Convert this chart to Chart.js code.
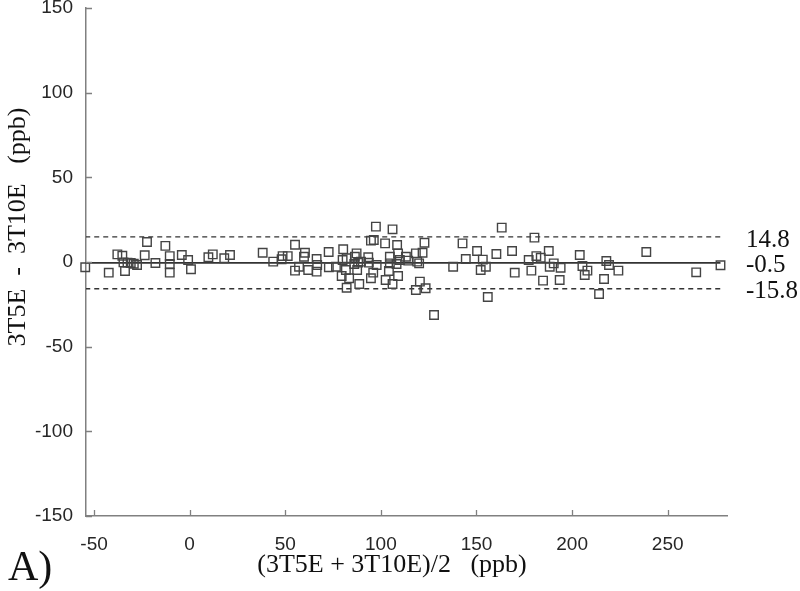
<!DOCTYPE html>
<html>
<head>
<meta charset="utf-8">
<script src="https://cdn.jsdelivr.net/npm/chart.js@4.4.1/dist/chart.umd.min.js"></script>
<style>
  body { margin: 0; background: #fff; }
  #caixa { width: 800px; height: 591px; }
</style>
</head>
<body>
<div id="caixa"><canvas id="grafico"></canvas></div>
<script>
// media das duas medidas (eixo x) e diferenca (eixo y)
var mediaX = [
  -54.6, -42.3, -37.8, -35.2, -34.6, -33.8, -32.5, -30.8, -29.2, -27.5,
  -22.3, -23.5, -17.9, -12.7, -10.4, -10.4, -10.4, -4.1, -0.8, 0.7,
  9.8, 12.1, 18.1, 21.1, 38.2, 43.7, 48.1, 48.6, 51.3, 55.1,
  55.1, 57.2, 60.3, 59.8, 62.0, 66.4, 66.7, 66.4, 72.7, 72.8,
  76.5, 80.3, 80.0, 82.1, 79.5, 81.7, 83.4, 82.1, 87.3, 86.4,
  86.1, 88.1, 87.6, 89.6, 88.7, 93.4, 93.7, 94.8, 96.3, 97.4,
  96.0, 94.8, 97.8, 102.2, 102.5, 104.7, 104.7, 104.2, 106.1, 106.1,
  108.5, 109.0, 108.2, 109.0, 109.9, 113.1, 114.3, 118.3, 119.0, 120.0,
  121.8, 122.8, 120.4, 118.3, 123.4, 127.8, 137.8, 142.7, 144.4, 150.3,
  153.3, 152.2, 154.9, 155.9, 160.4, 163.2, 168.6, 170.0, 177.3, 178.7,
  180.3, 181.3, 183.6, 184.8, 187.8, 188.3, 190.4, 193.5, 194.0, 204.0,
  205.4, 206.6, 208.0, 214.1, 216.7, 217.9, 219.3, 224.2, 238.8, 264.9,
  277.6
];
var diferencaY = [
  -3.1, -6.3, 4.5, 3.7, -0.2, -5.3, -0.4, -0.6, -1.0, -1.8,
  11.8, 4.0, -0.6, 9.5, 3.5, -1.2, -6.3, 4.1, 1.2, -4.3,
  2.8, 4.5, 2.2, 4.1, 5.5, 0.2, 1.6, 3.5, 3.5, 10.2,
  -5.1, -2.8, 5.5, 3.1, -4.7, 1.8, -1.8, -5.7, 5.9, -3.1,
  -2.8, 7.5, 1.2, 2.2, -8.3, -4.7, -9.6, -15.2, 5.1, 3.1,
  -1.2, -0.4, -4.7, 0.2, -13.0, 2.8, -0.4, 12.6, 13.0, 20.9,
  -6.3, -9.6, -1.8, 11.0, -10.6, 3.1, -0.8, -5.3, 19.3, -13.0,
  10.0, 5.1, -1.2, -8.3, 1.2, 3.1, 0.8, 5.1, 0.2, -0.8,
  5.5, 11.4, -11.6, -16.5, -15.5, -31.3, -2.8, 11.0, 1.8, 6.5,
  1.4, -4.7, -2.8, -20.7, 4.7, 20.3, 6.5, -6.3, 1.2, -5.1,
  14.4, 3.5, 2.5, -11.0, 6.5, -2.8, -0.8, -10.6, -3.4, 4.1,
  -2.4, -7.7, -5.1, -18.9, -10.0, 0.6, -1.8, -5.1, 5.9, -6.1,
  -1.9
];
var xTicks = [-50, 0, 50, 100, 150, 200, 250];
var yTicks = [-150, -100, -50, 0, 50, 100, 150];
var limites = [14.8, -0.5, -15.8]; // limite superior, media, limite inferior
var tituloX = "(3T5E + 3T10E)/2   (ppb)";
var tituloY = "3T5E  -  3T10E   (ppb)";
var painel = "A)";

var pontos = [];
for (var i = 0; i < mediaX.length; i++) {
  pontos.push({ x: mediaX[i], y: diferencaY[i] });
}
var xIni = Math.min.apply(null, mediaX);
var xFim = Math.max.apply(null, mediaX);

var datasets = [
  {
    type: "scatter",
    data: pontos,
    pointStyle: "rect",
    pointRadius: 6,
    pointHoverRadius: 6,
    borderColor: "#444",
    backgroundColor: "rgba(0,0,0,0)",
    borderWidth: 1.4,
    clip: false,
    yAxisID: "y",
  },
];
for (var j = 0; j < limites.length; j++) {
  datasets.push({
    type: "line",
    data: [
      { x: xIni, y: limites[j] },
      { x: xFim, y: limites[j] },
    ],
    borderColor: "#333",
    borderWidth: j == 1 ? 1.6 : 1.3,
    borderDash: j == 1 ? [] : [5, 4],
    pointRadius: 0,
    fill: false,
    yAxisID: "y",
  });
}

function semPadding(scale) {
  scale.paddingTop = 0;
  scale.paddingBottom = 0;
}

// ticks para dentro e textos
var extras = {
  id: "extras",
  afterDraw: function (chart) {
    var ctx = chart.ctx;
    var a = chart.chartArea;
    var sx = chart.scales.x;
    var sy = chart.scales.y;
    ctx.save();
    ctx.strokeStyle = "#808080";
    ctx.lineWidth = 1.3;
    ctx.beginPath();
    for (var i = 0; i < xTicks.length; i++) {
      var px = Math.round(sx.getPixelForValue(xTicks[i])) + 0.5;
      ctx.moveTo(px, a.bottom);
      ctx.lineTo(px, a.bottom - 6);
    }
    for (var k = 0; k < yTicks.length; k++) {
      var py = Math.round(sy.getPixelForValue(yTicks[k])) + 0.5;
      ctx.moveTo(a.left, py);
      ctx.lineTo(a.left + 6, py);
    }
    ctx.stroke();

    ctx.fillStyle = "#111";
    ctx.font = "26px 'Liberation Serif', 'Times New Roman', serif";
    ctx.textAlign = "center";
    ctx.textBaseline = "alphabetic";
    ctx.fillText(tituloX, 392, 572);

    ctx.translate(25, 227);
    ctx.rotate(-Math.PI / 2);
    ctx.fillText(tituloY, 0, 0);
    ctx.restore();

    ctx.save();
    ctx.fillStyle = "#111";
    ctx.font = "42px 'Liberation Serif', 'Times New Roman', serif";
    ctx.textAlign = "left";
    ctx.fillText(painel, 8, 580);
    ctx.restore();
  },
};

new Chart(grafico, {
  data: { datasets: datasets },
  options: {
    responsive: true,
    maintainAspectRatio: false,
    animation: false,
    layout: {
      padding: { top: 8, left: 0, right: 0, bottom: 0 },
    },
    scales: {
      x: {
        type: "linear",
        min: -54.2,
        max: 281,
        afterBuildTicks: function (scale) {
          scale.ticks = xTicks.map(function (v) { return { value: v }; });
        },
        afterFit: function (scale) {
          scale.height = 75;
          scale.paddingLeft = 0;
          scale.paddingRight = 0;
        },
        grid: { display: false },
        border: { display: true, color: "#808080", width: 1.5 },
        ticks: {
          color: "#262626",
          padding: 9,
          maxRotation: 0,
          autoSkip: false,
          font: { family: "'Liberation Sans', Arial, sans-serif", size: 19 },
        },
      },
      y: {
        type: "linear",
        position: "left",
        min: -150,
        max: 150,
        afterBuildTicks: function (scale) {
          scale.ticks = yTicks.map(function (v) { return { value: v }; });
        },
        afterFit: function (scale) {
          scale.width = 86;
          semPadding(scale);
        },
        grid: { display: false },
        border: { display: true, color: "#808080", width: 1.5 },
        ticks: {
          color: "#262626",
          padding: 5,
          autoSkip: false,
          font: { family: "'Liberation Sans', Arial, sans-serif", size: 19 },
        },
      },
      y2: {
        type: "linear",
        position: "right",
        min: -150,
        max: 150,
        afterBuildTicks: function (scale) {
          scale.ticks = limites.map(function (v) { return { value: v }; });
        },
        afterFit: function (scale) {
          scale.width = 73;
          semPadding(scale);
        },
        grid: { display: false },
        border: { display: false },
        ticks: {
          color: "#111",
          padding: 11,
          labelOffset: 3,
          autoSkip: false,
          callback: function (v) {
            return v.toFixed(1);
          },
          font: { family: "'Liberation Serif', 'Times New Roman', serif", size: 25 },
        },
      },
    },
    plugins: {
      legend: { display: false },
      tooltip: { enabled: false },
    },
  },
  plugins: [extras],
});
</script>
</body>
</html>
